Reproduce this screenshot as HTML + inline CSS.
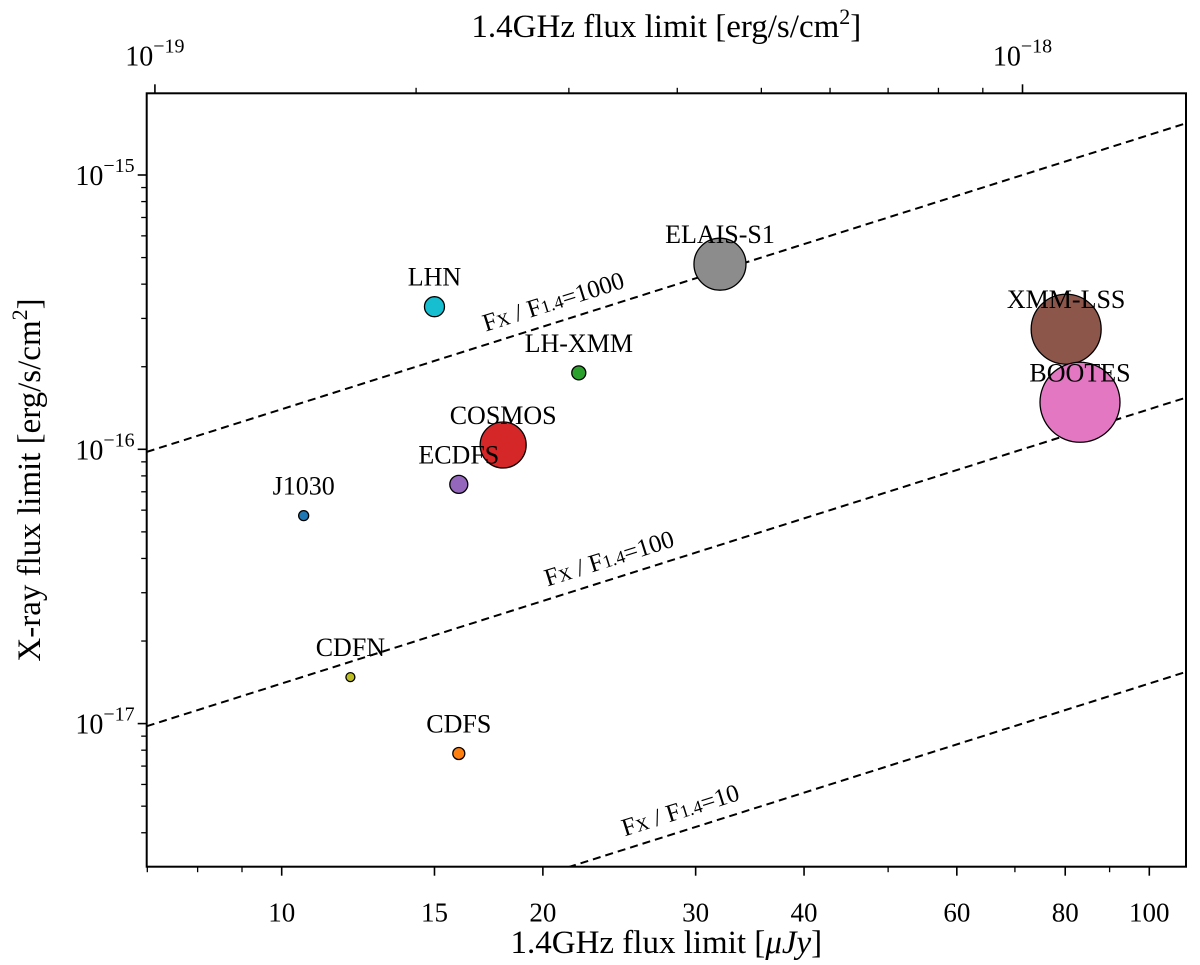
<!DOCTYPE html>
<html><head><meta charset="utf-8"><style>
html,body{margin:0;padding:0;background:#fff;}
svg{display:block;font-family:"Liberation Serif",serif;}
</style></head><body>
<svg id="chart" width="1200" height="965" viewBox="0 0 1200 965" xmlns="http://www.w3.org/2000/svg"></svg>
<script>
const fieldNames = ["LHN","LH-XMM","ELAIS-S1","XMM-LSS","BOOTES","COSMOS","ECDFS","J1030","CDFN","CDFS"];
const radioLimits = [15.0, 22.0, 32.0, 80.2, 83.2, 18.0, 16.0, 10.6, 12.0, 16.0];
const xrayLimits = [3.31e-16, 1.90e-16, 4.73e-16, 2.74e-16, 1.484e-16, 1.037e-16, 7.45e-17, 5.73e-17, 1.477e-17, 7.78e-18];
const markerSizes = [10, 7, 26, 35, 40, 23, 9, 5, 4.5, 6];
const markerColors = ["#17becf","#2ca02c","#8c8c8c","#8c564b","#e377c2","#d62728","#9467bd","#1f77b4","#bcbd22","#ff7f0e"];
const ratioValues = [1000, 100, 10];
const ratioLabelX = [20.7, 24.0, 29.0];
const xMajorTicks = [10, 15, 20, 30, 40, 60, 80, 100];
const xMinorTicks = [7, 8, 9, 50, 70, 90];
const yMajorExp = [-15, -16, -17];
const topMajorExp = [-19, -18];

const NS = "http://www.w3.org/2000/svg";
const svg = document.getElementById("chart");
const L = 146.7, R = 1186, T = 93.3, B = 866.7;
const X10 = 281.7, XDEC = 867.6, Y15 = 175, YDEC = 274.3;
const JY2CGS = 1.4e-20;
function xs(v){ return X10 + (Math.log10(v) - 1) * XDEC; }
function ys(v){ return Y15 - (Math.log10(v) + 15) * YDEC; }
const xMinV = Math.pow(10, 1 + (L - X10) / XDEC), xMaxV = Math.pow(10, 1 + (R - X10) / XDEC);
const yMinV = Math.pow(10, -15 - (B - Y15) / YDEC), yMaxV = Math.pow(10, -15 - (T - Y15) / YDEC);

function mk(tag, attrs, parent){
  const e = document.createElementNS(NS, tag);
  for (const k in attrs) e.setAttribute(k, attrs[k]);
  (parent || svg).appendChild(e);
  return e;
}
function powLabel(x, y, exp, anchor, name){
  const t = mk("text", {x:x, y:y, "font-size":28, "text-anchor":anchor, fill:"#000"});
  
  
  const a = document.createElementNS(NS, "tspan"); a.textContent = "10"; t.appendChild(a);
  const b = document.createElementNS(NS, "tspan"); b.setAttribute("dy", "-13"); b.setAttribute("font-size", "20"); b.textContent = "\u2212" + Math.abs(exp); t.appendChild(b);
  return t;
}

const defs = mk("defs", {});
const cp = mk("clipPath", {id:"plotclip"}, defs);
mk("rect", {x:L, y:T, width:R-L, height:B-T}, cp);

const linesG = mk("g", {"clip-path":"url(#plotclip)"});


const angle = -Math.atan(YDEC / XDEC) * 180 / Math.PI;
ratioValues.forEach((r, i) => {
  const x1 = xMinV, x2 = xMaxV;
  const ln = mk("line", {x1:xs(x1), y1:ys(r*x1*JY2CGS), x2:xs(x2), y2:ys(r*x2*JY2CGS), stroke:"#000", "stroke-width":2, "stroke-dasharray":"8,5"}, linesG);
  
  
});
ratioValues.forEach((r, i) => {
  const lx = xs(ratioLabelX[i]), ly = ys(r*ratioLabelX[i]*JY2CGS) - 13;
  const t = mk("text", {x:lx, y:ly, "font-size":25, "text-anchor":"middle", transform:`rotate(${angle} ${lx} ${ly})`});
  
  
  t.innerHTML = 'F<tspan font-size="18">X</tspan> / F<tspan font-size="18">1.4</tspan>=' + r;
});

fieldNames.forEach((n, i) => {
  const cx = xs(radioLimits[i]), cy = ys(xrayLimits[i]);
  const c = mk("circle", {cx:cx, cy:cy, r:markerSizes[i], fill:markerColors[i], stroke:"#000", "stroke-width":1.3});
  
  
});
fieldNames.forEach((n, i) => {
  const cx = xs(radioLimits[i]), cy = ys(xrayLimits[i]);
  const t = mk("text", {x:cx, y:cy - 21, "font-size":26, "text-anchor":"middle"});
  
  
  t.textContent = n;
});

const frame = mk("rect", {x:L, y:T, width:R-L, height:B-T, fill:"none", stroke:"#000", "stroke-width":2});



xMajorTicks.forEach(v => {
  const x = xs(v);
  const tk = mk("line", {x1:x, y1:B, x2:x, y2:B+9, stroke:"#000", "stroke-width":1.6});
  
  
  const t = mk("text", {x:x, y:B+55, "font-size":27, "text-anchor":"middle"});
  
  
  t.textContent = v;
});
xMinorTicks.forEach(v => {
  const x = xs(v);
  const tk = mk("line", {x1:x, y1:B, x2:x, y2:B+5.5, stroke:"#000", "stroke-width":1.3});
  
  
});
const xt = mk("text", {x:(L+R)/2, y:953, "font-size":33, "text-anchor":"middle"});


xt.innerHTML = '1.4GHz flux limit [<tspan font-style="italic">\u03bcJy</tspan>]';

yMajorExp.forEach(e => {
  const y = ys(Math.pow(10, e));
  const tk = mk("line", {x1:L, y1:y, x2:L-9, y2:y, stroke:"#000", "stroke-width":1.6});
  
  
  powLabel(L-12, y+10, e, "end", 'y-tick-label');
});
for (let e = -18; e <= -15; e++) {
  for (let m = 2; m <= 9; m++) {
    const v = m * Math.pow(10, e);
    if (v < yMinV || v > yMaxV) continue;
    const y = ys(v);
    const tk = mk("line", {x1:L, y1:y, x2:L-5.5, y2:y, stroke:"#000", "stroke-width":1.3});
    
    
  }
}
const yt = mk("text", {x:0, y:0, "font-size":33, "text-anchor":"middle", transform:`translate(40 ${(T+B)/2}) rotate(-90)`});


yt.innerHTML = 'X-ray flux limit [erg/s/cm<tspan dy="-13" font-size="22">2</tspan><tspan dy="13">]</tspan>';

topMajorExp.forEach(e => {
  const x = xs(Math.pow(10, e) / JY2CGS);
  const tk = mk("line", {x1:x, y1:T, x2:x, y2:T-9, stroke:"#000", "stroke-width":1.6});
  
  
  powLabel(x, T-28, e, "middle", 'top-tick-label');
});
for (let e = -19; e <= -18; e++) {
  for (let m = 2; m <= 9; m++) {
    const v = m * Math.pow(10, e) / JY2CGS;
    if (v < xMinV || v > xMaxV) continue;
    const x = xs(v);
    const tk = mk("line", {x1:x, y1:T, x2:x, y2:T-5.5, stroke:"#000", "stroke-width":1.3});
    
    
  }
}
const tt = mk("text", {x:(L+R)/2, y:37, "font-size":33, "text-anchor":"middle"});


tt.innerHTML = '1.4GHz flux limit [erg/s/cm<tspan dy="-13" font-size="22">2</tspan><tspan dy="13">]</tspan>';
</script>
</body></html>
